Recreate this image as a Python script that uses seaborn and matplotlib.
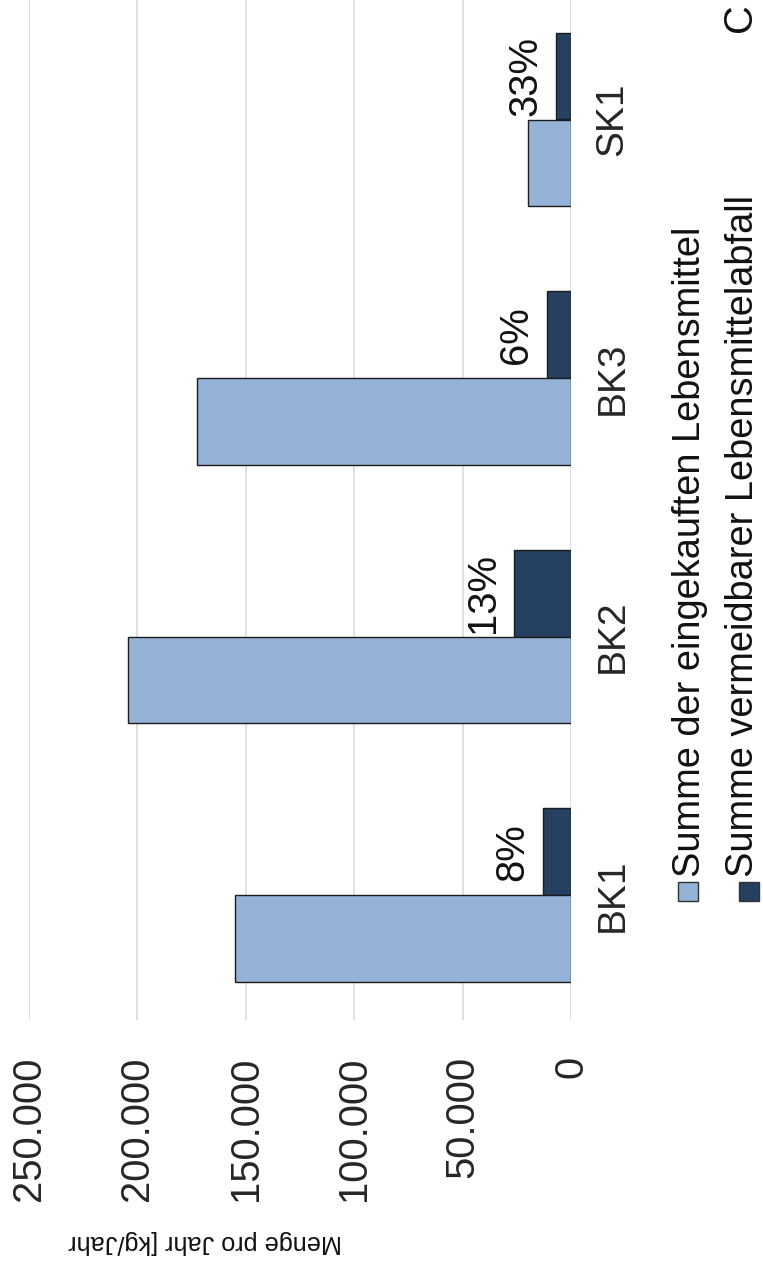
import matplotlib
matplotlib.use("Agg")
import matplotlib.pyplot as plt
from matplotlib.patches import Rectangle
import pandas as pd
import seaborn as sns

categories = ["BK1", "BK2", "BK3", "SK1"]
eingekauft = [154800, 204100, 172300, 19800]
vermeidbar = [12900, 26300, 11000, 6700]
anteil = ["8%", "13%", "6%", "33%"]
series = ["Summe der eingekauften Lebensmittel", "Summe vermeidbarer Lebensmittelabfall"]
tick_values = [0, 50000, 100000, 150000, 200000, 250000]
tick_labels = ["0", "50.000", "100.000", "150.000", "200.000", "250.000"]
axis_label = "Menge pro Jahr [kg/Jahr"
colors = ["#95B3D7", "#254061"]

sns.set_style("white")
plt.rcParams["font.family"] = ["Liberation Sans", "DejaVu Sans"]

df = pd.DataFrame({
    "Kategorie": categories * 2,
    "Menge": eingekauft + vermeidbar,
    "Reihe": [series[0]] * len(categories) + [series[1]] * len(categories),
})

W, H = 763, 1285
fig = plt.figure(figsize=(W / 100, H / 100), dpi=100)
ax = fig.add_axes([28.5 / W, 1 - 1020 / H, (571 - 28.5) / W, 1020 / H])

# whole chart is turned 90 degrees: bars run leftwards, SK1 at the top
order = categories[::-1]
sns.barplot(data=df, y="Kategorie", x="Menge", hue="Reihe", order=order,
            hue_order=series[::-1], palette=colors[::-1], orient="h",
            width=0.67, saturation=1, edgecolor="#1c1c1c", linewidth=1,
            ax=ax, legend=False)

ax.set_xlim(250000, 0)
ax.set_ylim(3 + 125 / 258.5, -119.5 / 258.5)
ax.grid(axis="x", color="#D9D9D9", linewidth=1.1)
ax.grid(axis="y", visible=False)
ax.set_axisbelow(True)
for s in ax.spines.values():
    s.set_visible(False)

ax.set_xticks(tick_values, tick_labels, rotation=90, va="top", fontsize=28.8)
ax.tick_params(axis="x", length=0, pad=26)
ax.yaxis.tick_right()
ax.set_yticks(range(len(order)), order, rotation=90, va="center", fontsize=28)
ax.tick_params(axis="y", length=0, pad=17)
ax.set_xlabel("")
ax.set_ylabel("")

# percentage labels next to the waste bars (first hue level = waste)
waste_bars = ax.containers[0]
for rect in waste_bars.patches:
    yc = rect.get_y() + rect.get_height() / 2
    cat = order[int(round(yc))]
    ax.annotate(anteil[categories.index(cat)], (rect.get_width(), yc),
                xytext=(-14.5, 0), textcoords="offset points",
                rotation=90, rotation_mode="anchor", ha="center",
                va="baseline", fontsize=28.8, color="#111111")

# axis title, upside down after the turn
fig.text(205 / W, 1 - 1242 / H, axis_label, rotation=180, ha="center",
         va="center", fontsize=18.2, color="#111111")

# legend drawn by hand (rotated)
for i, (name, col) in enumerate(zip(series, colors)):
    sx = 678 + i * 61
    fig.add_artist(Rectangle((sx / W, 1 - 901 / H), 20 / W, 19 / H,
                             transform=fig.transFigure, facecolor=col,
                             edgecolor="#333333", linewidth=1))
    fig.text((700 + i * 53) / W, 1 - 877 / H, name, rotation=90,
             rotation_mode="anchor", ha="left", va="baseline",
             fontsize=27.4, color="#111111")

# letter at the top right edge
fig.text(751 / W, 1 - 32 / H, "C", rotation=90, rotation_mode="anchor",
         ha="left", va="baseline", fontsize=28.8, color="#111111")

fig.savefig("out.png", dpi=100)
